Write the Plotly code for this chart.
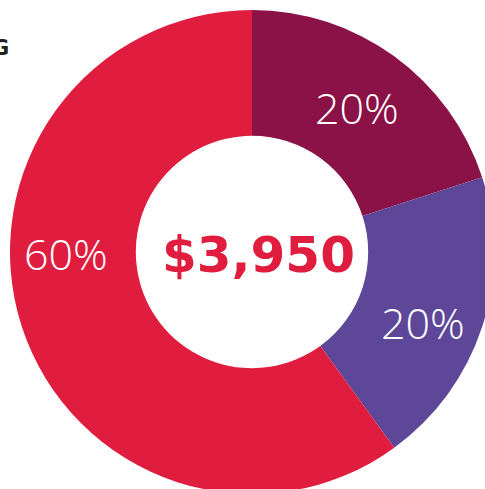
import plotly.graph_objects as go

categories = ["Category A", "Category B", "Category C"]
values = [790, 790, 2370]
colors = ["#8B1246", "#5E4699", "#E01D3E"]
heading_tail = "G"

total = sum(values)
pcts = [f"{round(v / total * 100)}%" for v in values]

W, H = 500, 500
cx, cy, R = 252, 252, 242

fig = go.Figure(go.Pie(
    labels=categories,
    values=values,
    hole=0.48,
    sort=False,
    direction="clockwise",
    rotation=0,
    marker=dict(colors=colors, line=dict(width=0)),
    textinfo="none",
    hoverinfo="label+percent",
    showlegend=False,
    domain=dict(x=[(cx - R) / W, (cx + R) / W], y=[1 - (cy + R) / H, 1 - (cy - R) / H]),
))

label_pos = [(357, 108), (423, 322), (66, 253)]
for (px, py), t in zip(label_pos, pcts):
    fig.add_annotation(x=px / W, y=1 - py / H, xref="paper", yref="paper",
                       xanchor="center", yanchor="middle",
                       text=t, showarrow=False,
                       font=dict(family="Open Sans", size=43, color="white", weight=300))

fig.add_annotation(x=258 / W, y=1 - 255 / H, xref="paper", yref="paper",
                   xanchor="center", yanchor="middle",
                   text=f"${total:,}", showarrow=False,
                   font=dict(family="DejaVu Sans", size=50, color="#E01D3E", weight="bold"))

fig.add_annotation(x=0, y=1 - 48 / H, xref="paper", yref="paper",
                   xanchor="right", yanchor="middle",
                   xshift=11, text=f"<b>{heading_tail}</b>", showarrow=False,
                   font=dict(family="DejaVu Sans", size=21, color="#231F20"))

fig.update_layout(width=W, height=H, margin=dict(l=0, r=0, t=0, b=0, autoexpand=False),
                  paper_bgcolor="white", plot_bgcolor="white")

fig.write_html("out.html", config={"displayModeBar": False},
               post_script="document.body.style.margin='0';document.body.style.overflow='hidden';")
